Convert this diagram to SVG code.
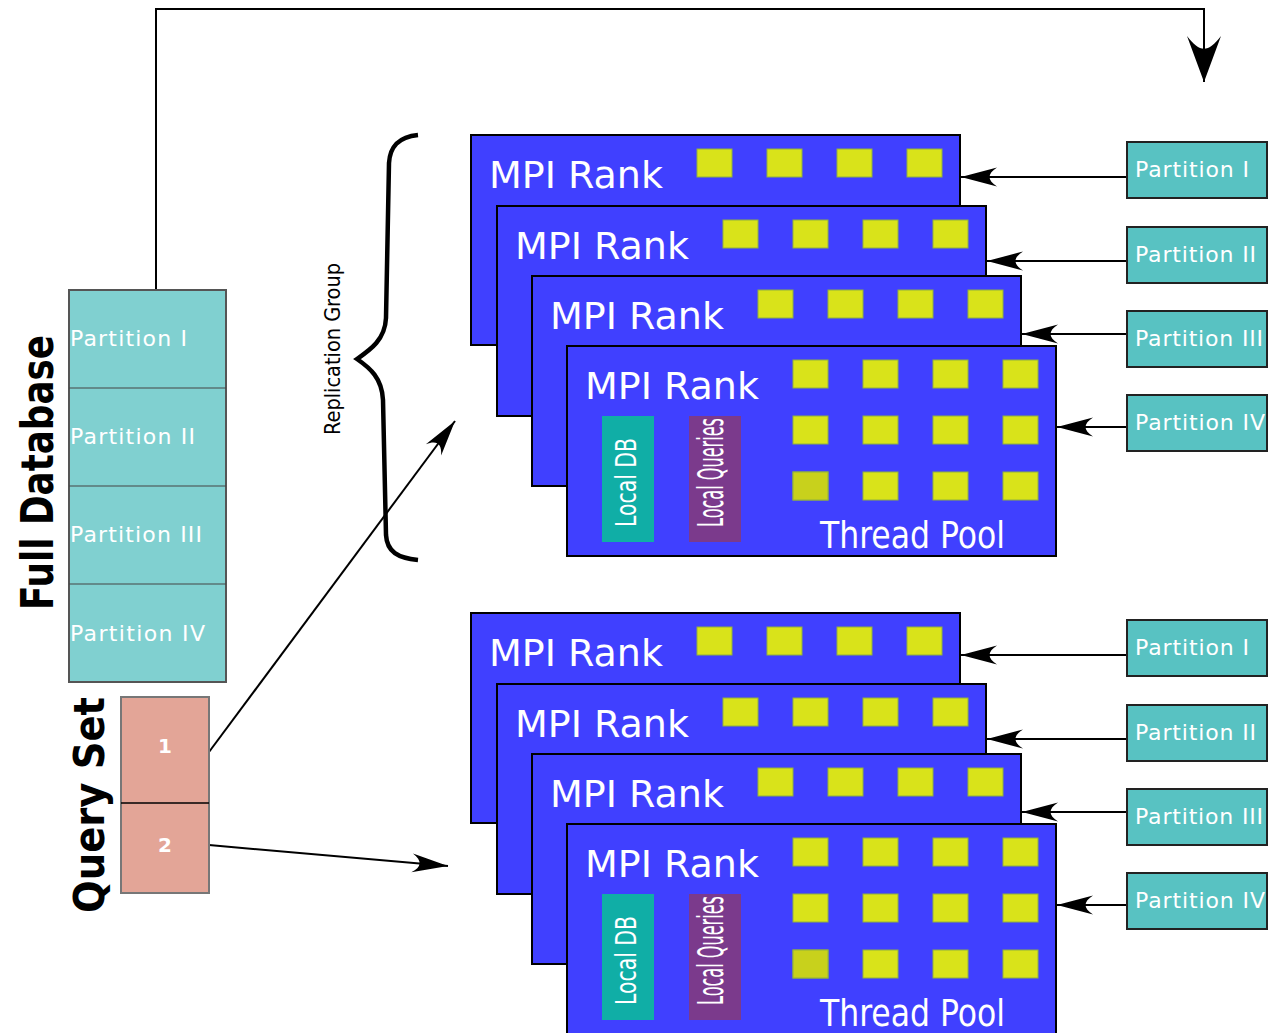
<svg xmlns="http://www.w3.org/2000/svg" xmlns:xlink="http://www.w3.org/1999/xlink" width="1277" height="1033" viewBox="0 0 1277 1033">
  <style>
    .rank { fill: #4040ff; stroke: #000; stroke-width: 2; }
    .thr { fill: #d9e31a; stroke: #8fb040; stroke-width: 1; }
    .thr-busy { fill: #c8d11c; stroke: #8fb040; stroke-width: 1; }
    .rank-label { font-family: "DejaVu Sans", "Liberation Sans", sans-serif; font-size: 38px; fill: #fff; }
    .cond { font-family: "DejaVu Sans Condensed", "DejaVu Sans", "Liberation Sans Narrow", sans-serif; fill: #fff; }
    .part { fill: #58c2c2; stroke: #222; stroke-width: 2; }
    .part-text { font-family: "DejaVu Sans", "Liberation Sans", sans-serif; font-size: 22px; fill: #fff; }
    .db-text { font-family: "DejaVu Sans", "Liberation Sans", sans-serif; font-size: 22px; fill: #fff; }
    .title { font-family: "DejaVu Sans", "Liberation Sans", sans-serif; font-weight: bold; fill: #000; }
    .conn { fill: none; stroke: #000; stroke-width: 2; }
  </style>
  <defs>
    <marker id="head" markerUnits="userSpaceOnUse" markerWidth="40" markerHeight="24" viewBox="-36 -12 40 24" refX="0" refY="0" orient="auto" overflow="visible">
      <path d="M0,0 L-36,-9.5 C-26,-3 -26,3 -36,9.5 Z" fill="#000"/>
    </marker>
    <marker id="headBig" markerUnits="userSpaceOnUse" markerWidth="50" markerHeight="36" viewBox="-48 -18 50 36" refX="0" refY="0" orient="auto" overflow="visible">
      <path d="M0,0 L-46,-17 C-29,-4 -29,4 -46,17 Z" fill="#000"/>
    </marker>
    <!-- one row of four worker threads -->
    <g id="row4">
      <rect class="thr" x="0" y="0" width="35" height="28"/>
      <rect class="thr" x="70" y="0" width="35" height="28"/>
      <rect class="thr" x="140" y="0" width="35" height="28"/>
      <rect class="thr" x="210" y="0" width="35" height="28"/>
    </g>
  </defs>

  <rect width="1277" height="1033" fill="#fff"/>

  <!-- connectors -->
  <g id="connectors">
    <polyline class="conn" stroke-width="3" points="156,290 156,9 1204,9 1204,82" marker-end="url(#headBig)"/>
    <line class="conn" x1="209" y1="752" x2="455" y2="421" marker-end="url(#head)"/>
    <line class="conn" x1="209" y1="845" x2="448" y2="866" marker-end="url(#head)"/>
    <!-- group 1 partition feeds -->
    <line class="conn" x1="1127" y1="177" x2="961" y2="177" marker-end="url(#head)"/>
    <line class="conn" x1="1127" y1="261" x2="987" y2="261" marker-end="url(#head)"/>
    <line class="conn" x1="1127" y1="334" x2="1022" y2="334" marker-end="url(#head)"/>
    <line class="conn" x1="1127" y1="427" x2="1057" y2="427" marker-end="url(#head)"/>
    <!-- group 2 partition feeds -->
    <line class="conn" x1="1127" y1="655" x2="961" y2="655" marker-end="url(#head)"/>
    <line class="conn" x1="1127" y1="739" x2="987" y2="739" marker-end="url(#head)"/>
    <line class="conn" x1="1127" y1="812" x2="1022" y2="812" marker-end="url(#head)"/>
    <line class="conn" x1="1127" y1="905" x2="1057" y2="905" marker-end="url(#head)"/>
  </g>

  <!-- full database -->
  <g id="full-database">
    <rect x="69" y="290" width="157" height="392" fill="#80d0d0" stroke="#555" stroke-width="2"/>
    <line x1="69" y1="388" x2="226" y2="388" stroke="#444" stroke-width="1"/>
    <line x1="69" y1="486" x2="226" y2="486" stroke="#444" stroke-width="1"/>
    <line x1="69" y1="584" x2="226" y2="584" stroke="#444" stroke-width="1"/>
    <text class="db-text" x="70" y="346" textLength="117">Partition I</text>
    <text class="db-text" x="70" y="444" textLength="125">Partition II</text>
    <text class="db-text" x="70" y="542" textLength="132">Partition III</text>
    <text class="db-text" x="70" y="641" textLength="135">Partition IV</text>
    <text class="title" font-size="44" transform="translate(53,610) rotate(-90)" textLength="275" lengthAdjust="spacingAndGlyphs">Full Database</text>
  </g>

  <!-- query set -->
  <g id="query-set">
    <rect x="121" y="697" width="88" height="196" fill="#e3a597" stroke="#777" stroke-width="2"/>
    <line x1="121" y1="803" x2="209" y2="803" stroke="#000" stroke-width="1.5"/>
    <text class="title" font-size="20" style="fill:#fff" x="165" y="753" text-anchor="middle">1</text>
    <text class="title" font-size="20" style="fill:#fff" x="165" y="852" text-anchor="middle">2</text>
    <text class="title" font-size="42" transform="translate(104,913) rotate(-90)" textLength="216" lengthAdjust="spacingAndGlyphs">Query Set</text>
  </g>

  <!-- replication group brace -->
  <g id="replication-group">
    <path d="M418,135 C398,137 390,147 389,163 L386,318 C385,340 370,350 357,359 C370,368 382,378 383,400 L386,535 C387,552 398,558 418,560" fill="none" stroke="#000" stroke-width="4.5"/>
    <text class="cond" style="fill:#000" font-size="22" transform="translate(340,349) rotate(-90)" text-anchor="middle" textLength="172" lengthAdjust="spacingAndGlyphs">Replication Group</text>
  </g>

  <!-- replication group 1 -->
  <g id="rank-1a" transform="translate(471,135)">
    <rect class="rank" x="0" y="0" width="489" height="210"/>
    <text class="rank-label" x="18" y="53">MPI Rank</text>
    <use xlink:href="#row4" x="226" y="14"/>
  </g>
  <g id="rank-1b" transform="translate(497,206)">
    <rect class="rank" x="0" y="0" width="489" height="210"/>
    <text class="rank-label" x="18" y="53">MPI Rank</text>
    <use xlink:href="#row4" x="226" y="14"/>
  </g>
  <g id="rank-1c" transform="translate(532,276)">
    <rect class="rank" x="0" y="0" width="489" height="210"/>
    <text class="rank-label" x="18" y="53">MPI Rank</text>
    <use xlink:href="#row4" x="226" y="14"/>
  </g>
  <g id="rank-1d" transform="translate(567,346)">
    <rect class="rank" x="0" y="0" width="489" height="210"/>
    <text class="rank-label" x="18" y="53">MPI Rank</text>
    <use xlink:href="#row4" x="226" y="14"/>
    <use xlink:href="#row4" x="226" y="70"/>
    <use xlink:href="#row4" x="226" y="126"/>
    <rect class="thr-busy" x="226" y="126" width="35" height="28"/>
    <rect x="35" y="70" width="52" height="126" fill="#10aea6"/>
    <rect x="122" y="70" width="52" height="126" fill="#7b3a8c"/>
    <text class="cond" font-size="28" transform="translate(69,181) rotate(-90)" textLength="89" lengthAdjust="spacingAndGlyphs">Local DB</text>
    <text class="cond" font-size="36" transform="translate(156,181) rotate(-90)" textLength="109" lengthAdjust="spacingAndGlyphs">Local Queries</text>
    <text class="cond" font-size="38" x="253" y="202" textLength="185" lengthAdjust="spacingAndGlyphs">Thread Pool</text>
  </g>

  <!-- replication group 2 -->
  <g id="rank-2a" transform="translate(471,613)">
    <rect class="rank" x="0" y="0" width="489" height="210"/>
    <text class="rank-label" x="18" y="53">MPI Rank</text>
    <use xlink:href="#row4" x="226" y="14"/>
  </g>
  <g id="rank-2b" transform="translate(497,684)">
    <rect class="rank" x="0" y="0" width="489" height="210"/>
    <text class="rank-label" x="18" y="53">MPI Rank</text>
    <use xlink:href="#row4" x="226" y="14"/>
  </g>
  <g id="rank-2c" transform="translate(532,754)">
    <rect class="rank" x="0" y="0" width="489" height="210"/>
    <text class="rank-label" x="18" y="53">MPI Rank</text>
    <use xlink:href="#row4" x="226" y="14"/>
  </g>
  <g id="rank-2d" transform="translate(567,824)">
    <rect class="rank" x="0" y="0" width="489" height="210"/>
    <text class="rank-label" x="18" y="53">MPI Rank</text>
    <use xlink:href="#row4" x="226" y="14"/>
    <use xlink:href="#row4" x="226" y="70"/>
    <use xlink:href="#row4" x="226" y="126"/>
    <rect class="thr-busy" x="226" y="126" width="35" height="28"/>
    <rect x="35" y="70" width="52" height="126" fill="#10aea6"/>
    <rect x="122" y="70" width="52" height="126" fill="#7b3a8c"/>
    <text class="cond" font-size="28" transform="translate(69,181) rotate(-90)" textLength="89" lengthAdjust="spacingAndGlyphs">Local DB</text>
    <text class="cond" font-size="36" transform="translate(156,181) rotate(-90)" textLength="109" lengthAdjust="spacingAndGlyphs">Local Queries</text>
    <text class="cond" font-size="38" x="253" y="202" textLength="185" lengthAdjust="spacingAndGlyphs">Thread Pool</text>
  </g>

  <!-- partitions feeding group 1 -->
  <g id="p1-g1"><rect class="part" x="1127" y="142" width="140" height="56"/><text class="part-text" x="1135" y="177" textLength="114">Partition I</text></g>
  <g id="p2-g1"><rect class="part" x="1127" y="227" width="140" height="56"/><text class="part-text" x="1135" y="262" textLength="121">Partition II</text></g>
  <g id="p3-g1"><rect class="part" x="1127" y="311" width="140" height="56"/><text class="part-text" x="1135" y="346" textLength="128">Partition III</text></g>
  <g id="p4-g1"><rect class="part" x="1127" y="395" width="140" height="56"/><text class="part-text" x="1135" y="430" textLength="130">Partition IV</text></g>

  <!-- partitions feeding group 2 -->
  <g id="p1-g2"><rect class="part" x="1127" y="620" width="140" height="56"/><text class="part-text" x="1135" y="655" textLength="114">Partition I</text></g>
  <g id="p2-g2"><rect class="part" x="1127" y="705" width="140" height="56"/><text class="part-text" x="1135" y="740" textLength="121">Partition II</text></g>
  <g id="p3-g2"><rect class="part" x="1127" y="789" width="140" height="56"/><text class="part-text" x="1135" y="824" textLength="128">Partition III</text></g>
  <g id="p4-g2"><rect class="part" x="1127" y="873" width="140" height="56"/><text class="part-text" x="1135" y="908" textLength="130">Partition IV</text></g>
</svg>
